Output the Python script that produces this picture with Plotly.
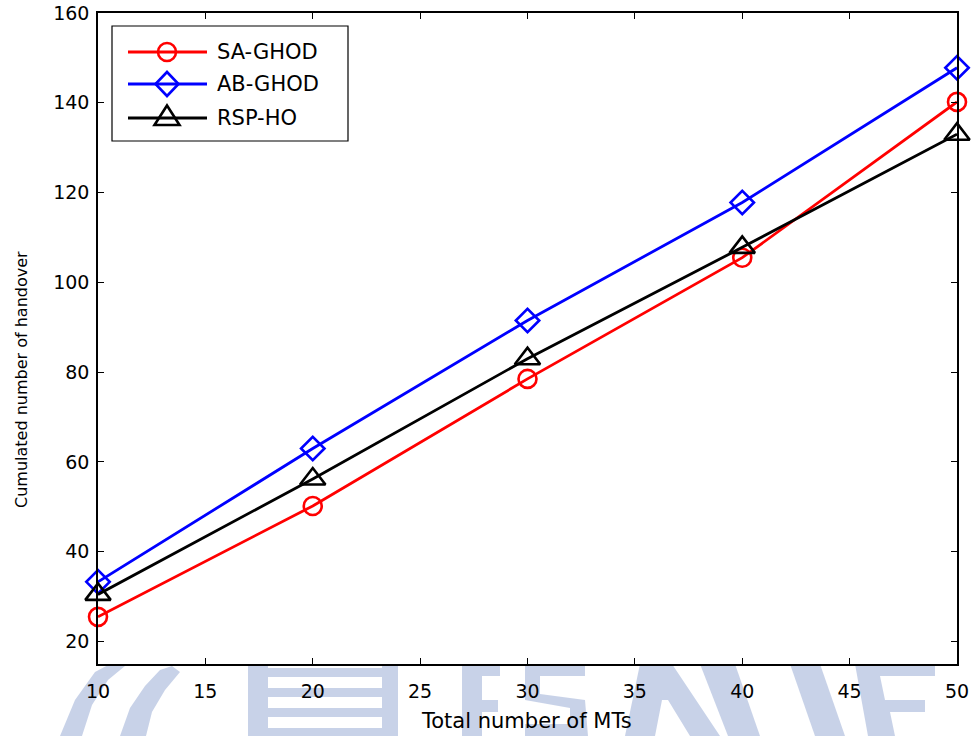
import plotly.graph_objects as go

# ---------------- data ----------------
mts = [10, 20, 30, 40, 50]
sa_ghod = [25.5, 50.2, 78.5, 105.5, 140.2]
ab_ghod = [33.3, 63.0, 91.5, 117.8, 147.8]
rsp_ho = [30.5, 56.2, 83.0, 107.8, 133.0]
series_names = ["SA-GHOD", "AB-GHOD", "RSP-HO"]
x_ticks = [10, 15, 20, 25, 30, 35, 40, 45, 50]
y_ticks = [20, 40, 60, 80, 100, 120, 140, 160]

# ---------------- layout geometry (pixels) ----------------
W, H = 973, 736
L, R, T, B = 98, 16, 13, 72
PW, PH = W - L - R, H - T - B
FONT = "DejaVu Sans"


def px(xp):
    return (xp - L) / PW


def py(yp):
    return (H - B - yp) / PH


styles = [
    dict(color="#ff0000", symbol="circle-open", size=18),
    dict(color="#0000ff", symbol="diamond-open", size=18),
    dict(color="#000000", symbol="triangle-up-open", size=22),
]
data = [sa_ghod, ab_ghod, rsp_ho]

fig = go.Figure()
for name, ys, st in zip(series_names, data, styles):
    fig.add_trace(go.Scatter(
        x=mts, y=ys, name=name, mode="lines+markers",
        line=dict(color=st["color"], width=2.8),
        marker=dict(symbol=st["symbol"], size=st["size"], color=st["color"],
                    line=dict(color=st["color"], width=2.6)),
        showlegend=False, cliponaxis=False,
    ))

axis_common = dict(
    showline=True, linecolor="black", linewidth=1.5, mirror="ticks",
    ticks="inside", ticklen=6, tickwidth=1.2, tickcolor="black",
    showgrid=False, zeroline=False, automargin=False,
    tickfont=dict(family=FONT, size=19, color="black"),
)
fig.update_xaxes(range=[10, 50], tickvals=x_ticks, ticklabelstandoff=9, **axis_common)
fig.update_yaxes(range=[15, 160], tickvals=y_ticks, ticklabelstandoff=3, **axis_common)

shapes = []
annotations = []

# ---------------- watermark (light blue logo at bottom) ----------------
wm = "rgba(125,148,200,0.42)"


def poly(points):
    d = "M" + " L".join(f"{px(a):.5f},{py(b):.5f}" for a, b in points) + " Z"
    shapes.append(dict(type="path", xref="paper", yref="paper", path=d,
                       fillcolor=wm, line=dict(width=0), layer="below"))


# arc-like strokes on the left
poly([(60, 736), (75, 700), (95, 672), (110, 664), (125, 666), (108, 680), (92, 705), (82, 736)])
poly([(120, 736), (130, 708), (145, 686), (160, 670), (172, 666), (180, 672), (165, 690), (152, 712), (146, 736)])
# striped block
poly([(248, 664), (268, 664), (268, 736), (248, 736)])
poly([(382, 664), (398, 664), (398, 736), (382, 736)])
for yb in (668, 688, 708, 728):
    poly([(268, yb), (382, yb), (382, yb + 9), (268, yb + 9)])
# "F"-like block
poly([(462, 664), (482, 664), (482, 736), (462, 736)])
poly([(482, 664), (500, 664), (500, 676), (482, 676)])
poly([(482, 700), (498, 700), (498, 712), (482, 712)])
# "S"-like block
poly([(525, 664), (585, 664), (585, 676), (540, 676), (540, 694), (585, 700), (588, 736),
      (525, 736), (525, 724), (570, 724), (570, 708), (525, 700)])
# "A"-like block
poly([(640, 664), (672, 664), (720, 736), (690, 736), (668, 700), (662, 700), (655, 736), (625, 736)])
poly([(700, 664), (735, 664), (760, 736), (728, 736)])
# right slanted blocks
poly([(790, 664), (820, 664), (845, 736), (815, 736)])
poly([(855, 664), (935, 664), (935, 676), (880, 676), (885, 700), (925, 700), (925, 712),
      (890, 712), (895, 736), (868, 736)])

# ---------------- manual legend (MATLAB style) ----------------
shapes.append(dict(type="rect", xref="paper", yref="paper",
                   x0=px(112), x1=px(348), y0=py(141), y1=py(26),
                   line=dict(color="black", width=1.2), fillcolor="white", layer="above"))
rows = [52, 84, 118]
for name, st, yr in zip(series_names, styles, rows):
    c = st["color"]
    shapes.append(dict(type="line", xref="paper", yref="paper",
                       x0=px(128), x1=px(207), y0=py(yr), y1=py(yr),
                       line=dict(color=c, width=2.8), layer="above"))
    xa, ya = px(167), py(yr)
    common = dict(xref="paper", yref="paper", xsizemode="pixel", ysizemode="pixel",
                  xanchor=xa, yanchor=ya, line=dict(color=c, width=2.6), layer="above")
    if st["symbol"].startswith("circle"):
        shapes.append(dict(type="circle", x0=-9, x1=9, y0=-9, y1=9, **common))
    elif st["symbol"].startswith("diamond"):
        shapes.append(dict(type="path", path="M0,12 L11.5,0 L0,-12 L-11.5,0 Z", **common))
    else:
        shapes.append(dict(type="path", path="M0,12.5 L12.5,-7 L-12.5,-7 Z", **common))
    annotations.append(dict(text=name, xref="paper", yref="paper", x=px(215), y=py(yr),
                            xanchor="left", yanchor="middle", showarrow=False,
                            font=dict(family=FONT, size=21, color="black")))

# ---------------- axis titles ----------------
annotations.append(dict(text="Total number of MTs", xref="paper", yref="paper",
                        x=px(526), y=py(721), xanchor="center", yanchor="middle",
                        showarrow=False, font=dict(family=FONT, size=21, color="black")))
annotations.append(dict(text="Cumulated number of handover", xref="paper", yref="paper",
                        x=px(21), y=py(380), xanchor="center", yanchor="middle",
                        textangle=-90, showarrow=False,
                        font=dict(family=FONT, size=16, color="black")))

fig.update_layout(
    width=W, height=H,
    margin=dict(l=L, r=R, t=T, b=B),
    paper_bgcolor="white", plot_bgcolor="white",
    shapes=shapes, annotations=annotations,
    showlegend=False,
)

fig.write_html("out.html")
